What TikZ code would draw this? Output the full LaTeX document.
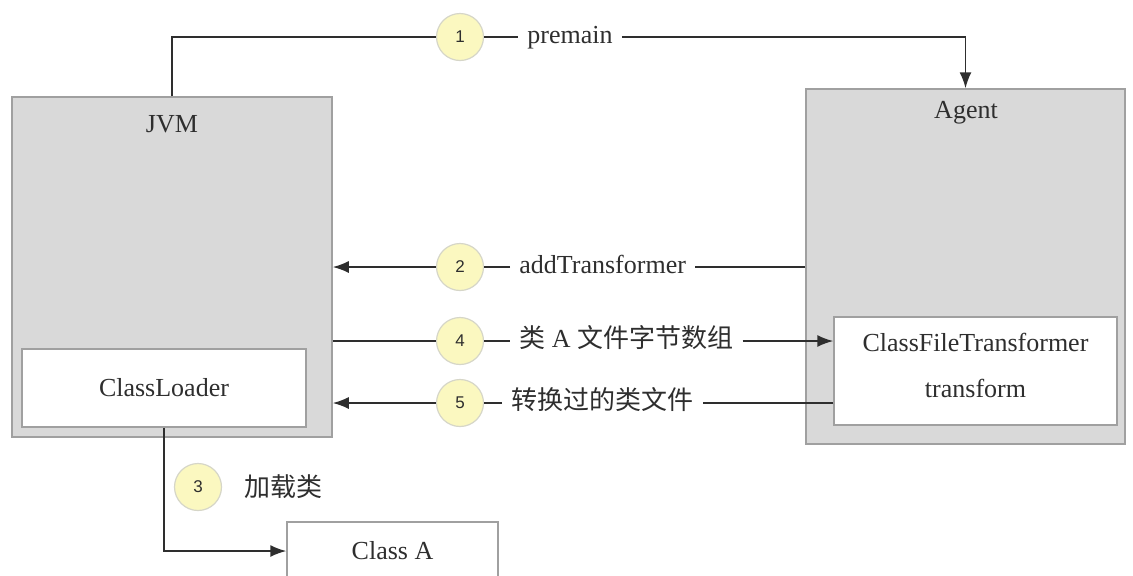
\documentclass[tikz,border=0pt]{standalone}
\usepackage{fontspec}
\setmainfont{Liberation Serif}
\newfontfamily\cjk{Noto Sans CJK SC}
\newfontfamily\numfont{Liberation Sans}
\usetikzlibrary{arrows.meta}
\definecolor{boxgray}{HTML}{D9D9D9}
\definecolor{boxedge}{HTML}{A0A0A0}
\definecolor{circfill}{HTML}{FBF8C0}
\definecolor{circedge}{HTML}{D6D6C8}
\definecolor{ink}{HTML}{2E2E2E}
\begin{document}
\begin{tikzpicture}[x=0.5pt,y=-0.5pt,
  font=\fontsize{13}{15}\selectfont, text=ink,
  graybox/.style={draw=boxedge, fill=boxgray, line width=0.75pt, inner sep=0pt},
  whitebox/.style={draw=boxedge, fill=white, line width=0.75pt, inner sep=0pt},
  numcirc/.style={circle, draw=circedge, fill=circfill, line width=0.6pt, minimum size=23.5pt, inner sep=0pt, font=\numfont\fontsize{8.5}{9}\selectfont},
  lbl/.style={inner xsep=4.5pt, inner ysep=2pt, anchor=west, text height=9pt, text depth=2.5pt},
  conn/.style={draw=ink, line width=0.8pt},
  arr/.style={conn, -{Latex[length=8pt,width=6pt]}},
]
\useasboundingbox (0,0) rectangle (1133,575);
% boxes
\node[graybox, minimum width=160pt, minimum height=170pt] (jvm) at (172,267) {};
\node (jvmt) at (172,124) {JVM};
\node[whitebox, minimum width=142pt, minimum height=39pt] (cl) at (164,388) {ClassLoader};
\node[graybox, minimum width=159.5pt, minimum height=177.5pt] (agent) at (965.5,266.5) {};
\node (agentt) at (966,113) {Agent};
\node[whitebox, minimum width=141.5pt, minimum height=54pt] (cft) at (975.5,371) {};
\node (cftt) at (975.5,342) {ClassFileTransformer};
\node (cftm) at (975.5,388) {transform};
\node[whitebox, minimum width=105.5pt, minimum height=29pt] (classa) at (392.5,551) {Class A};
% step 1
\node[numcirc] (c1) at (460,37) {1};
\node[lbl] (t1) at (518,37) {premain};
\draw[conn] (jvm.north) |- (c1);
\draw[conn] (c1) -- (t1);
\draw[arr] (t1) -| (agent.north);
% step 2
\node[numcirc] (c2) at (460,267) {2};
\node[lbl] (t2) at (510,267) {addTransformer};
\draw[conn] (agent.west |- t2) -- (t2);
\draw[conn] (t2) -- (c2);
\draw[arr] (c2) -- (jvm.east |- c2);
% step 4
\node[numcirc] (c4) at (460,341) {4};
\node[lbl] (t4) at (510,341) {{\cjk 类} A {\cjk 文件字节数组}};
\draw[conn] (jvm.east |- c4) -- (c4);
\draw[conn] (c4) -- (t4);
\draw[arr] (t4) -- (cft.west |- t4);
% step 5
\node[numcirc] (c5) at (460,403) {5};
\node[lbl] (t5) at (502,403) {\cjk 转换过的类文件};
\draw[conn] (cft.west |- t5) -- (t5);
\draw[conn] (t5) -- (c5);
\draw[arr] (c5) -- (jvm.east |- c5);
% step 3
\draw[arr] (cl.south) |- (classa.west);
\node[numcirc] (c3) at (198,487) {3};
\node (t3) at (283,487) {\cjk 加载类};
\end{tikzpicture}
\end{document}
